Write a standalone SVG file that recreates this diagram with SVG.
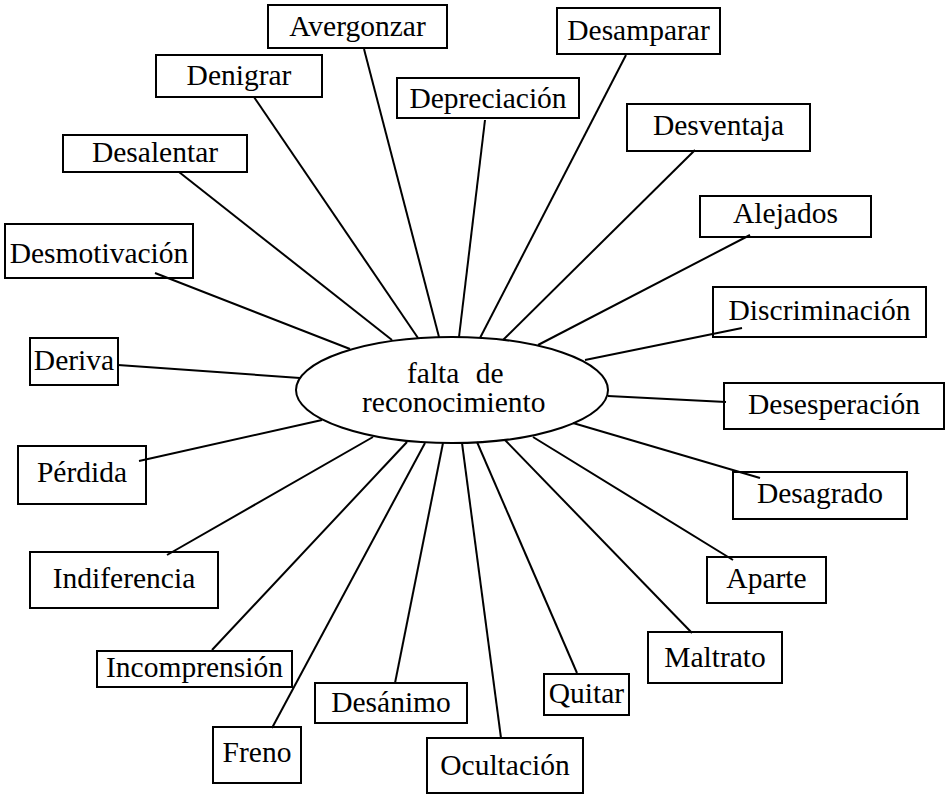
<svg xmlns="http://www.w3.org/2000/svg" width="945" height="794" viewBox="0 0 945 794">
<style>
.box{fill:#fff;stroke:#000;stroke-width:2}
.t{font-size:29.5px;fill:#000;text-anchor:middle}
.c line{stroke:#000;stroke-width:2}
</style>
<rect width="945" height="794" fill="#fff"/>
<g font-family="Liberation Serif, serif">
<g id="center">
<ellipse cx="452" cy="390" rx="156" ry="53" fill="#fff" stroke="#000" stroke-width="2"/>
<text class="t" x="407" y="383" style="text-anchor:start" word-spacing="9">falta de</text>
<text class="t" x="362" y="412" style="text-anchor:start">reconocimiento</text>
</g>
<g id="n-avergonzar"><rect class="box" x="268" y="5" width="179" height="43"/><text class="t" x="357.5" y="36">Avergonzar</text></g>
<g id="n-denigrar"><rect class="box" x="156" y="55" width="166" height="42"/><text class="t" x="239" y="85">Denigrar</text></g>
<g id="n-depreciacion"><rect class="box" x="397" y="78" width="182" height="40"/><text class="t" x="488" y="108">Depreciación</text></g>
<g id="n-desamparar"><rect class="box" x="557" y="8" width="163" height="46"/><text class="t" x="638.5" y="40">Desamparar</text></g>
<g id="n-desventaja"><rect class="box" x="627" y="104" width="183" height="47"/><text class="t" x="718.5" y="135">Desventaja</text></g>
<g id="n-alejados"><rect class="box" x="700" y="196" width="171" height="41"/><text class="t" x="785.5" y="223">Alejados</text></g>
<g id="n-desalentar"><rect class="box" x="63" y="135" width="184" height="37"/><text class="t" x="155" y="162">Desalentar</text></g>
<g id="n-desmotivacion"><rect class="box" x="5" y="224" width="188" height="54"/><text class="t" x="99" y="263">Desmotivación</text></g>
<g id="n-deriva"><rect class="box" x="30" y="338" width="88" height="47"/><text class="t" x="74" y="370">Deriva</text></g>
<g id="n-perdida"><rect class="box" x="18" y="446" width="128" height="58"/><text class="t" x="82" y="482">Pérdida</text></g>
<g id="n-indiferencia"><rect class="box" x="30" y="552" width="188" height="56"/><text class="t" x="124" y="588">Indiferencia</text></g>
<g id="n-incomprension"><rect class="box" x="97" y="651" width="195" height="36"/><text class="t" x="194.5" y="677">Incomprensión</text></g>
<g id="n-freno"><rect class="box" x="213" y="727" width="88" height="56"/><text class="t" x="257" y="762">Freno</text></g>
<g id="n-desanimo"><rect class="box" x="315" y="683" width="152" height="40"/><text class="t" x="391" y="712">Desánimo</text></g>
<g id="n-ocultacion"><rect class="box" x="427" y="738" width="156" height="55"/><text class="t" x="505" y="775">Ocultación</text></g>
<g id="n-quitar"><rect class="box" x="544" y="674" width="85" height="41"/><text class="t" x="586.5" y="703">Quitar</text></g>
<g id="n-maltrato"><rect class="box" x="648" y="632" width="134" height="51"/><text class="t" x="715" y="667">Maltrato</text></g>
<g id="n-aparte"><rect class="box" x="707" y="557" width="119" height="46"/><text class="t" x="766.5" y="588">Aparte</text></g>
<g id="n-desagrado"><rect class="box" x="733" y="472" width="174" height="47"/><text class="t" x="820" y="503">Desagrado</text></g>
<g id="n-desesperacion"><rect class="box" x="724" y="383" width="220" height="46"/><text class="t" x="834" y="414">Desesperación</text></g>
<g id="n-discriminacion"><rect class="box" x="713" y="287" width="213" height="50"/><text class="t" x="819.5" y="320">Discriminación</text></g>
</g>
<g id="connectors" class="c">
<line x1="364" y1="49" x2="439" y2="337"/>
<line x1="254" y1="97" x2="418" y2="338"/>
<line x1="485" y1="120" x2="459" y2="337"/>
<line x1="179" y1="172" x2="392" y2="340"/>
<line x1="155" y1="273" x2="350" y2="349"/>
<line x1="118" y1="365" x2="300" y2="378"/>
<line x1="139" y1="461" x2="322" y2="420"/>
<line x1="167" y1="555" x2="373" y2="437"/>
<line x1="212" y1="650" x2="407" y2="442"/>
<line x1="272" y1="728" x2="425" y2="443"/>
<line x1="395" y1="683" x2="443" y2="443"/>
<line x1="501" y1="738" x2="462" y2="443"/>
<line x1="577" y1="673" x2="477" y2="442"/>
<line x1="692" y1="633" x2="505" y2="440"/>
<line x1="733" y1="560" x2="533" y2="437"/>
<line x1="760" y1="478" x2="573" y2="423"/>
<line x1="726" y1="402" x2="608" y2="396"/>
<line x1="742" y1="328" x2="585" y2="360"/>
<line x1="750" y1="235" x2="538" y2="345"/>
<line x1="695" y1="150" x2="503" y2="340"/>
<line x1="626" y1="55" x2="480" y2="338"/>
</g>
</svg>
